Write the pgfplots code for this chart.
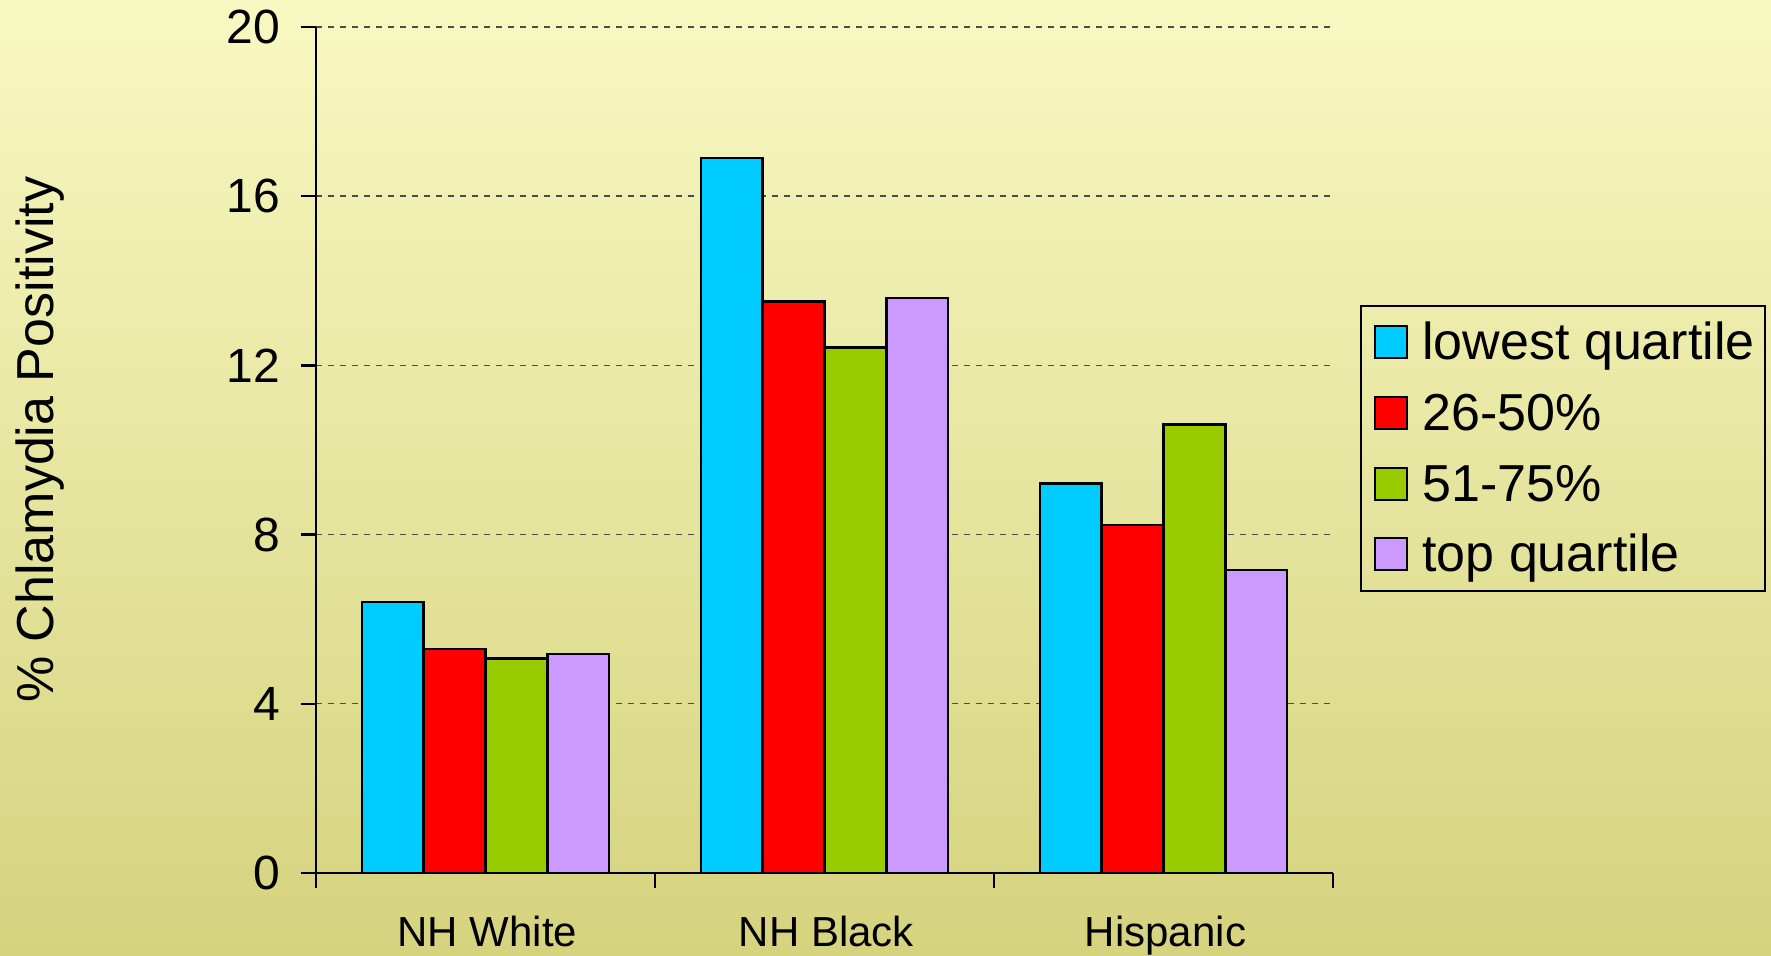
\documentclass[border=0pt]{standalone}
\usepackage{fontspec}
\setmainfont{Liberation Sans}
\usepackage{pgfplots}
\pgfplotsset{compat=1.18}
\definecolor{bgtop}{HTML}{F8F8C2}
\definecolor{bgbot}{HTML}{D5D37E}
\definecolor{c1}{HTML}{00CCFF}
\definecolor{c2}{HTML}{FF0000}
\definecolor{c3}{HTML}{99CC00}
\definecolor{c4}{HTML}{CC99FF}
\pgfplotsset{mybar/.style={draw=black, line width=1.2pt,
  legend image code/.code={\draw[##1,line width=1pt] (3.5pt,-8pt) rectangle (19.5pt,8pt); \path (0pt,0pt) (24.5pt,0pt);}}}
\begin{document}
\begin{tikzpicture}
\shade[top color=bgtop,bottom color=bgbot] (0,0) rectangle (885.5pt,478pt);
\path[use as bounding box] (0,0) rectangle (885.5pt,478pt);
\begin{axis}[at={(158pt,41.5pt)}, anchor=south west, scale only axis,
  width=508.5pt, height=423pt,
  xmin=-0.5, xmax=2.5, ymin=0, ymax=20,
  axis x line=bottom, axis y line=left,
  axis line style={-, line width=1.2pt, black},
  ybar, bar width=0.1825,
  ytick={0,4,8,12,16,20},
  /pgf/number format/assume math mode=true,
  yticklabel style={font=\fontsize{24}{28}\selectfont, xshift=-7pt},
  tick align=outside, major tick length=7.5pt,
  tick style={line width=1.2pt, black},
  xtick={-0.5,0.5,1.5,2.5}, xticklabels={},
  extra x ticks={0,1,2},
  extra x tick labels={NH White,NH Black,Hispanic},
  extra x tick style={major tick length=0pt,
     xticklabel style={font=\fontsize{21}{25}\selectfont, anchor=base, yshift=-37pt, xshift=1pt}},
  ymajorgrids, grid style={dash pattern=on 3pt off 3pt, line width=0.7pt, black!70},
  ylabel={\% Chlamydia Positivity},
  ylabel style={at={(axis description cs:-0.271,0.512)}, anchor=center, font=\fontsize{26}{30}\selectfont},
  legend style={at={(1.0265,0.6714)}, anchor=north west, draw=black, line width=1pt, fill=none,
     font=\fontsize{26}{30}\selectfont, row sep=4.8pt, inner xsep=3pt, inner ysep=3pt,
     nodes={text height=21pt, text depth=3.5pt, inner ysep=3pt}},
  legend cell align=left,
]
\addplot[mybar, fill=c1, bar shift=-0.27375] coordinates {(0,6.41) (1,16.9) (2,9.21)};
\addplot[mybar, fill=c2, bar shift=-0.09125] coordinates {(0,5.29) (1,13.51) (2,8.22)};
\addplot[mybar, fill=c3, bar shift=0.09125] coordinates {(0,5.07) (1,12.42) (2,10.6)};
\addplot[mybar, fill=c4, bar shift=0.27375] coordinates {(0,5.18) (1,13.59) (2,7.16)};
\legend{lowest quartile,26-50\%,51-75\%,top quartile}
\end{axis}
\end{tikzpicture}
\end{document}
